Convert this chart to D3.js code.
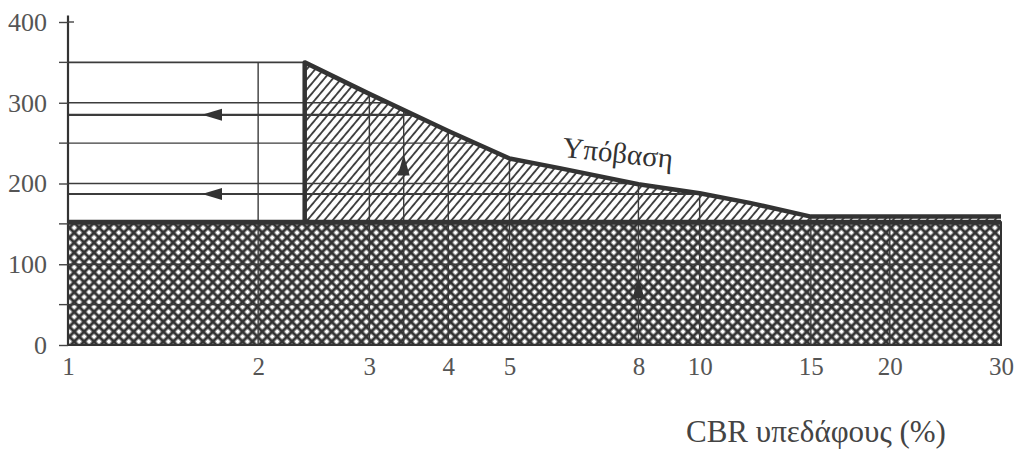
<!DOCTYPE html>
<html>
<head>
<meta charset="utf-8">
<script src="https://cdn.jsdelivr.net/npm/d3@7"></script>
<style>
body { margin: 0; background: #fff; }
text { font-family: "Liberation Serif", "DejaVu Serif", serif; }
</style>
</head>
<body>
<script>
// tick labels
var cbrTicks = [1, 2, 3, 4, 5, 8, 10, 15, 20, 30];
var thickTicks = [0, 100, 200, 300, 400];
var minorTicks = [50, 150, 250, 350];

// subbase curve (CBR, thickness)
var curveCbr   = [2.37, 3,   4,   5,   6,   8,   10,  12,  15,  30];
var curveThick = [350,  311, 265, 231, 219, 199, 188, 176, 159, 159];

// crosshatched layer top, box top
var baseThick = 152;
var boxThick = 350;

// thin grid
var gridCbr = [2, 3, 3.4, 4, 5, 8, 10, 15, 20];
var gridThick = [50, 100, 200, 250, 300];

// worked examples: read lines with arrows
var readThick = [285, 187];
var readArrowCbr = 1.63;
var upCbr = [3.4, 8];
var upArrowTip = [236, 84];

var w = 1021, h = 453;

var x = d3.scaleLog().domain([1, 30]).range([68, 1001]);
var y = d3.scaleLinear().domain([0, 400]).range([345, 22]);

var svg = d3.select("body")
	.append("svg")
	.attr("width", w)
	.attr("height", h);

var defs = svg.append("defs");

// double hatch for the subgrade
var cross = defs.append("pattern")
	.attr("id", "cross")
	.attr("patternUnits", "userSpaceOnUse")
	.attr("width", 7).attr("height", 7)
	.attr("patternTransform", "rotate(45)");
cross.append("rect").attr("width", 7).attr("height", 7).attr("fill", "#fff");
cross.append("path")
	.attr("d", "M0,0 H7 M0,7 H7 M0,0 V7 M7,0 V7")
	.attr("stroke", "#333")
	.attr("stroke-width", 3);

// single hatch for the subbase
var hatch = defs.append("pattern")
	.attr("id", "hatch")
	.attr("patternUnits", "userSpaceOnUse")
	.attr("width", 6.5).attr("height", 6.5)
	.attr("patternTransform", "rotate(40)");
hatch.append("rect").attr("width", 6.5).attr("height", 6.5).attr("fill", "#fff");
hatch.append("path")
	.attr("d", "M0,0 V6.5 M6.5,0 V6.5")
	.attr("stroke", "#404040")
	.attr("stroke-width", 1.9);

var curve = curveCbr.map(function(c, i) { return [c, curveThick[i]]; });
var line = d3.line().x(function(d) { return x(d[0]); }).y(function(d) { return y(d[1]); });

// outline under which the grid is drawn
var envelope = [[1, 0], [1, boxThick]].concat(curve).concat([[30, 0]]);
defs.append("clipPath").attr("id", "env")
	.append("path")
	.attr("d", line(envelope) + "Z");

// subbase area
var hatchArea = [[curveCbr[0], baseThick]].concat(curve).concat([[30, baseThick]]);
svg.append("path")
	.attr("d", line(hatchArea) + "Z")
	.attr("fill", "url(#hatch)");

// subgrade
svg.append("rect")
	.attr("x", x(1))
	.attr("y", y(baseThick))
	.attr("width", x(30) - x(1))
	.attr("height", y(0) - y(baseThick))
	.attr("fill", "url(#cross)")
	.attr("stroke", "#333")
	.attr("stroke-width", 2);

var grid = svg.append("g").attr("clip-path", "url(#env)")
	.attr("stroke", "#3c3c3c")
	.attr("stroke-width", 1.4);

grid.selectAll(".v")
	.data(gridCbr)
	.enter()
	.append("line")
	.attr("x1", function(d) { return x(d); })
	.attr("x2", function(d) { return x(d); })
	.attr("y1", y(0))
	.attr("y2", y(400));

grid.selectAll(".h")
	.data(gridThick)
	.enter()
	.append("line")
	.attr("x1", x(1))
	.attr("x2", x(30))
	.attr("y1", function(d) { return y(d); })
	.attr("y2", function(d) { return y(d); });

grid.selectAll(".r")
	.data(readThick)
	.enter()
	.append("line")
	.attr("x1", x(1))
	.attr("x2", x(30))
	.attr("y1", function(d) { return y(d); })
	.attr("y2", function(d) { return y(d); })
	.attr("stroke-width", 2.2);

// box top line
svg.append("line")
	.attr("x1", x(1)).attr("x2", x(curveCbr[0]))
	.attr("y1", y(boxThick)).attr("y2", y(boxThick))
	.attr("stroke", "#3c3c3c").attr("stroke-width", 1.6);

// thick outline: vertical step + curve + base
svg.append("path")
	.attr("d", line([[curveCbr[0], baseThick]].concat(curve)))
	.attr("fill", "none")
	.attr("stroke", "#333")
	.attr("stroke-width", 4.5)
	.attr("stroke-linejoin", "round");

svg.append("line")
	.attr("x1", x(1)).attr("x2", x(30))
	.attr("y1", y(baseThick)).attr("y2", y(baseThick))
	.attr("stroke", "#333").attr("stroke-width", 5);

// arrows
svg.selectAll(".la")
	.data(readThick)
	.enter()
	.append("path")
	.attr("d", function(d) {
		var tx = x(readArrowCbr), ty = y(d);
		return "M" + tx + "," + ty + " L" + (tx + 20) + "," + (ty - 6) + " L" + (tx + 20) + "," + (ty + 6) + "Z";
	})
	.attr("fill", "#333");

svg.selectAll(".ua")
	.data(upCbr)
	.enter()
	.append("path")
	.attr("d", function(d, i) {
		var tx = x(d), ty = y(upArrowTip[i]);
		return "M" + tx + "," + ty + " L" + (tx - 6) + "," + (ty + 21) + " L" + (tx + 6) + "," + (ty + 21) + "Z";
	})
	.attr("fill", "#333");

// y axis
var yAxis = svg.append("g")
	.attr("transform", "translate(" + x(1) + ",0)")
	.call(d3.axisLeft(y).tickValues(thickTicks).tickSize(9).tickPadding(12).tickFormat(d3.format("d")));
yAxis.select(".domain").attr("d", "M0," + y(0) + "V" + y(408)).attr("stroke", "#333").attr("stroke-width", 2.2);
yAxis.selectAll(".tick line").attr("stroke", "#444").attr("stroke-width", 1.4);
yAxis.selectAll(".tick text")
	.attr("font-size", 26)
	.attr("fill", "#555")
	.style("font-family", "Liberation Serif");
yAxis.selectAll(".minor")
	.data(minorTicks)
	.enter()
	.append("line")
	.attr("x1", -9).attr("x2", 0)
	.attr("y1", function(d) { return y(d); })
	.attr("y2", function(d) { return y(d); })
	.attr("stroke", "#444").attr("stroke-width", 1.4);
yAxis.append("line")
	.attr("x1", 0).attr("x2", 6)
	.attr("y1", y(400)).attr("y2", y(400))
	.attr("stroke", "#444").attr("stroke-width", 1.4);

// x axis labels
var xAxis = svg.append("g")
	.attr("transform", "translate(0," + y(0) + ")")
	.call(d3.axisBottom(x).tickValues(cbrTicks).tickSize(0).tickPadding(12).tickFormat(d3.format("d")));
xAxis.select(".domain").remove();
xAxis.selectAll(".tick text")
	.attr("font-size", 25)
	.attr("fill", "#555")
	.style("font-family", "Liberation Serif");

// curve label
svg.append("text")
	.attr("transform", "translate(" + x(6.05) + "," + y(233) + ") rotate(6)")
	.attr("font-size", 29)
	.attr("fill", "#333")
	.text("Υπόβαση");

// axis title
svg.append("text")
	.attr("x", 686)
	.attr("y", 442)
	.attr("font-size", 31)
	.attr("fill", "#444")
	.text("CBR υπεδάφους (%)");
</script>
</body>
</html>
